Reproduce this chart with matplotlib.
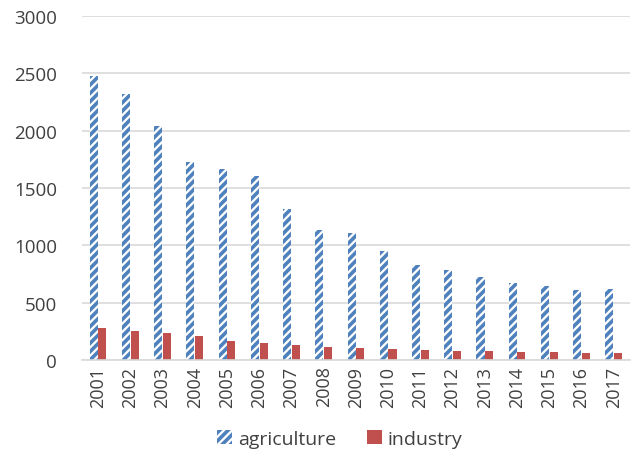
import matplotlib
matplotlib.use("Agg")
import matplotlib.pyplot as plt
import numpy as np

years = [str(y) for y in range(2001, 2018)]
agriculture = [2480, 2320, 2040, 1730, 1665, 1605, 1315, 1130, 1105, 955,
               828, 785, 722, 673, 644, 610, 616]
industry = [276, 250, 233, 207, 163, 145, 135, 110, 105, 99,
            87, 78, 75, 67, 66, 64, 61]

plt.rcParams['font.family'] = ['Open Sans', 'DejaVu Sans']
plt.rcParams['hatch.linewidth'] = 2.6
plt.rcParams['hatch.color'] = '#4F81BD'

fig = plt.figure(figsize=(6.35, 4.64), dpi=100)
ax = fig.add_axes([0.129, 0.222, 0.863, 0.741])

x = np.arange(len(years))
w = 0.25
ax.bar(x - w / 2 - 0.01, agriculture, w, facecolor='white', edgecolor='#4F81BD',
       hatch='////', linewidth=0, label='agriculture')
ax.bar(x + w / 2 + 0.01, industry, w, color='#C0504D', label='industry')

ax.set_xlim(-0.5, len(years) - 0.5)
ax.set_ylim(0, 3000)
ax.set_yticks(range(0, 3001, 500))
ax.set_xticks(x)
ax.set_xticklabels(years, rotation=90, fontsize=13, color='#404040')
ax.tick_params(axis='y', labelsize=13.5, colors='#404040', length=0, pad=18)
ax.tick_params(axis='x', length=0, pad=4)
ax.grid(axis='y', color='#D9D9D9', linewidth=1.2)
ax.set_axisbelow(True)
for s in ['top', 'right', 'left']:
    ax.spines[s].set_visible(False)
ax.spines['bottom'].set_color('#D9D9D9')
ax.spines['bottom'].set_linewidth(1.2)

leg = fig.legend(loc='lower center', bbox_to_anchor=(0.535, -0.005), ncol=2, frameon=False,
                 fontsize=14, handlelength=0.75, handleheight=0.75, columnspacing=1.6,
                 handletextpad=0.3)
for t in leg.get_texts():
    t.set_color('#404040')

fig.savefig('out.png', dpi=100)
